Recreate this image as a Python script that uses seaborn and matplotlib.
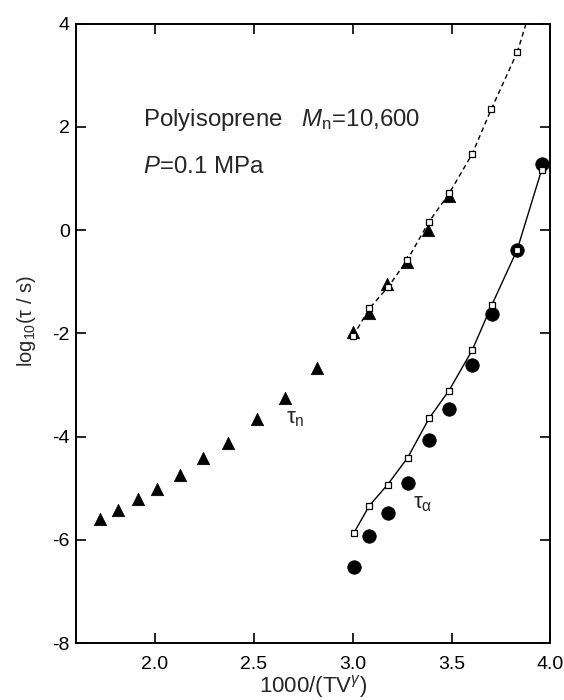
import numpy as np
import pandas as pd
import seaborn as sns
import matplotlib
matplotlib.use("Agg")
import matplotlib.pyplot as plt

# tau_n (filled triangles)
tn_x = [1.721, 1.815, 1.912, 2.010, 2.126, 2.245, 2.367, 2.515, 2.656, 2.818,
        3.000, 3.082, 3.174, 3.277, 3.380, 3.489]
tn_y = [-5.59, -5.43, -5.21, -5.01, -4.75, -4.42, -4.13, -3.67, -3.25, -2.68,
        -1.97, -1.60, -1.04, -0.61, 0.00, 0.66]

# tau_alpha (filled circles)
ta_x = [3.007, 3.084, 3.177, 3.278, 3.386, 3.487, 3.604, 3.704, 3.832, 3.955]
ta_y = [-6.53, -5.92, -5.49, -4.91, -4.06, -3.46, -2.61, -1.62, -0.38, 1.28]

# fit for tau_n (open squares, dashed)
fn_x = [3.003, 3.084, 3.180, 3.276, 3.386, 3.488, 3.604, 3.702, 3.832]
fn_y = [-2.05, -1.52, -1.10, -0.58, 0.16, 0.71, 1.47, 2.35, 3.44]
# dashed curve continues past the last square up to the frame
fn_tail_x = [3.832, 3.885]
fn_tail_y = [3.44, 4.10]

# fit for tau_alpha (open squares, solid)
fa_x = [3.007, 3.084, 3.177, 3.278, 3.386, 3.487, 3.604, 3.704, 3.832, 3.956]
fa_y = [-5.86, -5.34, -4.93, -4.41, -3.65, -3.11, -2.33, -1.45, -0.38, 1.17]

x_ticks = [2.0, 2.5, 3.0, 3.5, 4.0]
y_ticks = [-8, -6, -4, -2, 0, 2, 4]

sns.set_theme(style="ticks")
plt.rcParams["font.family"] = ["Liberation Sans", "DejaVu Sans"]
plt.rcParams["mathtext.fontset"] = "custom"
plt.rcParams["mathtext.rm"] = "Liberation Sans"
plt.rcParams["mathtext.it"] = "Liberation Sans:italic"
plt.rcParams["mathtext.bf"] = "Liberation Sans:bold"

fig = plt.figure(figsize=(5.64, 7.0), dpi=100)
ax = fig.add_axes([0.1346, 0.0814, 0.8413, 0.885])

sns.scatterplot(x=tn_x, y=tn_y, marker="^", s=80, color="black",
                edgecolor="black", linewidth=0.5, ax=ax, zorder=2)
sns.scatterplot(x=ta_x, y=ta_y, marker="o", s=95, color="black",
                edgecolor="black", linewidth=0.5, ax=ax, zorder=2)

sns.lineplot(x=fn_tail_x, y=fn_tail_y, sort=False, estimator=None, color="black",
             lw=1.0, linestyle=(0, (3.5, 2.5)), ax=ax, zorder=3)
sns.lineplot(x=fn_x, y=fn_y, sort=False, estimator=None, color="black", lw=1.0,
             linestyle=(0, (3.5, 2.5)), marker="s", markersize=4.2,
             markerfacecolor="white", markeredgecolor="black",
             markeredgewidth=0.9, ax=ax, zorder=4)
sns.lineplot(x=fa_x, y=fa_y, sort=False, estimator=None, color="black", lw=1.0,
             marker="s", markersize=4.2, markerfacecolor="white",
             markeredgecolor="black", markeredgewidth=0.9, ax=ax, zorder=4)

ax.set_xlim(1.6, 4.0)
ax.set_ylim(-8, 4)
ax.set_xticks(x_ticks)
ax.set_yticks(y_ticks)
ax.set_xticklabels([f"{t:.1f}" for t in x_ticks])
ax.set_yticklabels([str(t) for t in y_ticks])
ax.tick_params(direction="in", length=7, width=1.2, top=True, right=True,
               labelsize=14, colors="black")
ax.tick_params(axis="x", pad=9.5)
ax.tick_params(axis="y", pad=4.5)
for s in ax.spines.values():
    s.set_linewidth(1.4)
    s.set_color("black")

ax.set_xlabel("1000/(TV$^{\\gamma}$)", fontsize=16, labelpad=0)
ax.set_ylabel("log$_{10}$(τ / s)", fontsize=14.5)
ax.yaxis.set_label_coords(-0.08, 0.52)

ax.text(1.94, 2.14, "Polyisoprene   $\\it{M}_{\\rm n}$=10,600", fontsize=17.3,
        va="center", ha="left")
ax.text(1.94, 1.22, "$\\it{P}$=0.1 MPa", fontsize=17.3, va="center", ha="left")
ax.text(2.663, -3.75, "τ$_{\\rm n}$", fontsize=16, va="baseline", ha="left")
ax.text(3.305, -5.39, "τ$_{\\mathrm{\\alpha}}$", fontsize=16, va="baseline",
        ha="left")

fig.savefig("out.png", dpi=100)
